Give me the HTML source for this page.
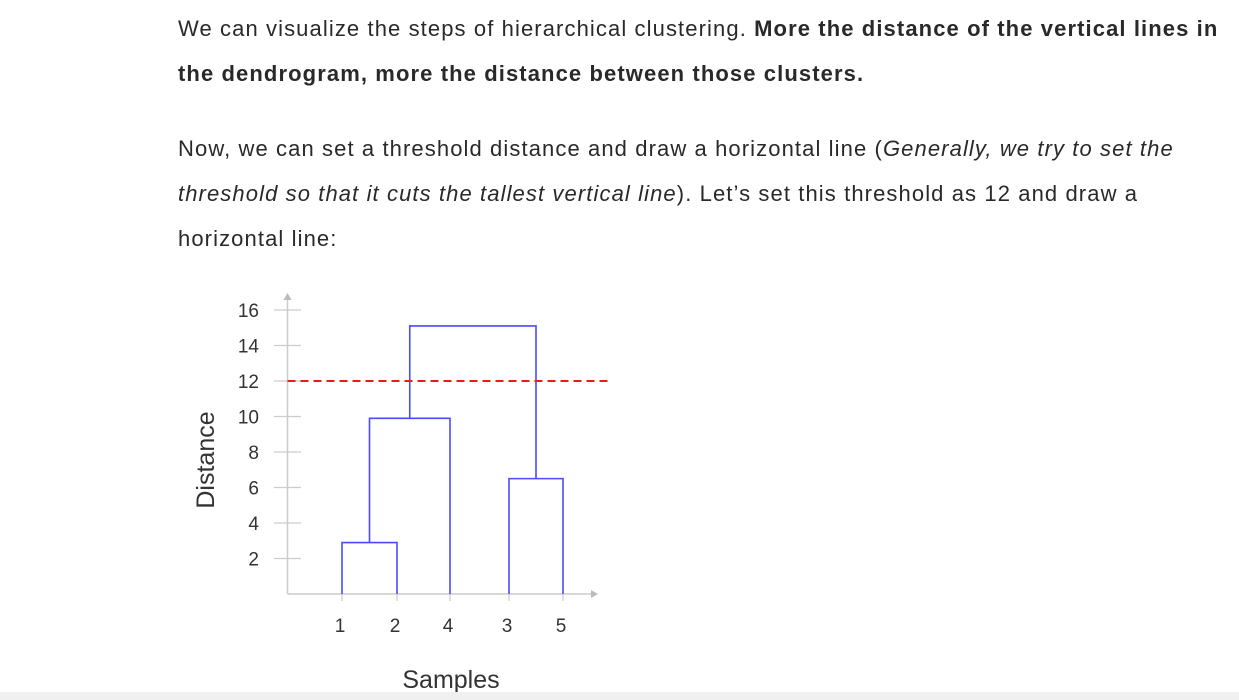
<!DOCTYPE html>
<html><head><meta charset="utf-8"><style>
body{margin:0;width:1239px;height:700px;background:#fff;overflow:hidden;position:relative;font-family:"Liberation Sans",sans-serif;color:#292929}
.p{position:absolute;left:178px;font-size:22px;letter-spacing:1.1px;line-height:45px;margin:0;white-space:nowrap}
</style></head><body>
<p class="p" style="top:6px">We can visualize the steps of hierarchical clustering. <b>More the distance of the vertical lines in<br>the dendrogram, more the distance between those clusters.</b></p>
<p class="p" style="top:126px">Now, we can set a threshold distance and draw a horizontal line (<i>Generally, we try to set the<br>threshold so that it cuts the tallest vertical line</i>). Let’s set this threshold as 12 and draw a<br>horizontal line:</p>
<svg id="chart" style="position:absolute;left:0;top:0" width="1239" height="700"></svg>
<div style="position:absolute;left:0;top:692px;width:1239px;height:8px;background:#f0f0f0"></div>
<script>
const yTicks=[2,4,6,8,10,12,14,16];
const leaves=["1","2","4","3","5"];
const merges=[[0,1,2.9],[5,2,9.9],[3,4,6.5],[6,7,15.1]];
const threshold=12;
const NS="http://www.w3.org/2000/svg";
const svg=document.getElementById('chart');
const X0=287.5,Y0=594,YS=17.75;
const leafX=[342,397,450,509,563];
const y=v=>Y0-v*YS;
function mk(t,a,p){const e=document.createElementNS(NS,t);for(const k in a)e.setAttribute(k,a[k]);(p||svg).appendChild(e);return e;}
let ax=mk('line',{x1:X0,y1:Y0,x2:592,y2:Y0,stroke:'#ccc','stroke-width':1.5});


mk('polygon',{points:`591,590 598,594 591,598`,fill:'#bbb'});
let ay=mk('line',{x1:X0,y1:Y0,x2:X0,y2:300,stroke:'#ccc','stroke-width':1.5});


mk('polygon',{points:`${X0-4},300 ${X0},293 ${X0+4},300`,fill:'#bbb'});
yTicks.forEach(v=>{
 mk('line',{x1:274,x2:301,y1:y(v),y2:y(v),stroke:'#ccc','stroke-width':1.2});
 const t=mk('text',{x:259,y:y(v)+7,'text-anchor':'end','font-size':19,fill:'#333'});
 t.textContent=v;
 
 
});
const nodeX=leafX.slice(),nodeH=leaves.map(()=>0);
leaves.forEach((l,i)=>{
 mk('line',{x1:leafX[i],x2:leafX[i],y1:Y0,y2:Y0+7,stroke:'#ccc','stroke-width':1.2});
 const t=mk('text',{x:leafX[i]-2,y:632,'text-anchor':'middle','font-size':19,fill:'#333'});
 t.textContent=l;
 
 
});
merges.forEach(([a,b,h])=>{
 const xa=nodeX[a],xb=nodeX[b];
 const p=mk('polyline',{points:`${xa},${y(nodeH[a])} ${xa},${y(h)} ${xb},${y(h)} ${xb},${y(nodeH[b])}`,fill:'none',stroke:'#4a4aff','stroke-width':1.6});
 
 
 nodeX.push((xa+xb)/2);nodeH.push(h);
});
const th=mk('line',{x1:X0,x2:612,y1:y(threshold),y2:y(threshold),stroke:'#f01818','stroke-width':2,'stroke-dasharray':'8,5'});


const yl=mk('text',{x:0,y:0,transform:'translate(214,460) rotate(-90)','text-anchor':'middle','font-size':25,fill:'#333'});
yl.textContent='Distance';


const xl=mk('text',{x:451,y:688,'text-anchor':'middle','font-size':25,fill:'#333'});
xl.textContent='Samples';


</script>
</body></html>
